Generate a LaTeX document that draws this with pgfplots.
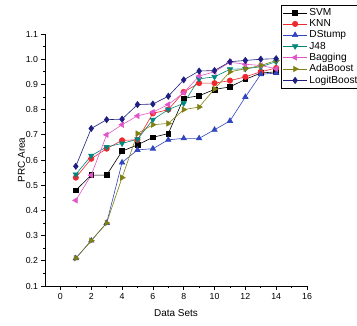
\documentclass[border=0pt]{standalone}
\usepackage{pgfplots}
\pgfplotsset{compat=1.18}
\usepackage{fontspec}
\setmainfont{Liberation Sans}
\definecolor{cknn}{RGB}{240,40,45}
\definecolor{cds}{RGB}{50,70,190}
\definecolor{cj}{RGB}{0,135,125}
\definecolor{cbag}{RGB}{225,85,200}
\definecolor{cada}{RGB}{128,128,20}
\definecolor{clog}{RGB}{30,30,130}
\begin{document}
\begin{tikzpicture}
\begin{axis}[
  at={(0,0)}, anchor=south west,
  width=262bp, height=252bp, scale only axis,
  xmin=-1, xmax=16, ymin=0.1, ymax=1.1,
  axis x line*=bottom, axis y line*=left,
  axis line style={-, line width=0.6bp},
  xtick={0,2,4,6,8,10,12,14,16}, minor x tick num=1,
  ytick={0.1,0.2,0.3,0.4,0.5,0.6,0.7,0.8,0.9,1.0,1.1}, minor y tick num=1,
  tick align=outside, major tick length=3.5bp, minor tick length=2bp,
  tick style={line width=0.6bp, black},
  yticklabel style={/pgf/number format/.cd, fixed, fixed zerofill, precision=1},
  /pgf/number format/assume math mode=true,
  tick label style={font=\fontsize{8.8}{10}\selectfont},
  xlabel={Data Sets}, ylabel={PRC Area},
  label style={font=\fontsize{10}{12}\selectfont},
  x label style={at={(axis description cs:0.5,-0.107)}, anchor=center},
  y label style={at={(axis description cs:-0.09,0.5)}, anchor=center},
  legend style={at={(axis description cs:0.902,1.115)}, anchor=north west,
    draw=black, line width=0.6bp, fill=white,
    font=\fontsize{10.2}{11.5}\selectfont, inner sep=1.2bp, row sep=-1.4bp,
    cells={anchor=west}},
  legend image code/.code={\draw[mark repeat=2, mark phase=2] plot coordinates {(0bp,0bp) (12bp,0bp) (24bp,0bp)};},
  every axis plot/.append style={line width=0.6bp, mark size=2.7bp},
]
\addplot[black, mark=square*, mark size=2.4bp] coordinates {
(1,0.48) (2,0.54) (3,0.54) (4,0.635) (5,0.66) (6,0.69) (7,0.705) (8,0.845) (9,0.855) (10,0.88) (11,0.89) (12,0.92) (13,0.945) (14,0.95)};
\addlegendentry{SVM}
\addplot[cknn, mark=*, mark options={fill=cknn}] coordinates {
(1,0.53) (2,0.605) (3,0.645) (4,0.678) (5,0.68) (6,0.785) (7,0.80) (8,0.87) (9,0.905) (10,0.905) (11,0.915) (12,0.93) (13,0.95) (14,0.965)};
\addlegendentry{KNN}
\addplot[cds, mark=triangle*, mark size=3.1bp, mark options={fill=cds}] coordinates {
(1,0.21) (2,0.28) (3,0.35) (4,0.59) (5,0.64) (6,0.645) (7,0.68) (8,0.686) (9,0.686) (10,0.72) (11,0.755) (12,0.85) (13,0.94) (14,0.945)};
\addlegendentry{DStump}
\addplot[cj, mark=triangle*, mark size=3.1bp, mark options={fill=cj, rotate=180}] coordinates {
(1,0.543) (2,0.617) (3,0.652) (4,0.666) (5,0.682) (6,0.76) (7,0.80) (8,0.825) (9,0.922) (10,0.93) (11,0.96) (12,0.962) (13,0.97) (14,0.99)};
\addlegendentry{J48}
\addplot[cbag, mark=triangle*, mark size=3.1bp, mark options={fill=cbag, rotate=90}] coordinates {
(1,0.44) (2,0.54) (3,0.70) (4,0.74) (5,0.775) (6,0.79) (7,0.82) (8,0.867) (9,0.933) (10,0.95) (11,0.988) (12,0.98) (13,0.975) (14,0.962)};
\addlegendentry{Bagging}
\addplot[cada, mark=triangle*, mark size=3.1bp, mark options={fill=cada, rotate=-90}] coordinates {
(1,0.21) (2,0.28) (3,0.35) (4,0.53) (5,0.705) (6,0.74) (7,0.745) (8,0.80) (9,0.81) (10,0.882) (11,0.95) (12,0.962) (13,0.975) (14,0.995)};
\addlegendentry{AdaBoost}
\addplot[clog, mark=diamond*, mark size=3.1bp, mark options={fill=clog}] coordinates {
(1,0.575) (2,0.725) (3,0.76) (4,0.762) (5,0.82) (6,0.822) (7,0.853) (8,0.918) (9,0.953) (10,0.955) (11,0.99) (12,0.995) (13,1.0) (14,1.002)};
\addlegendentry{LogitBoost}
\end{axis}
\pgfresetboundingbox
\path[use as bounding box] (-45bp,-40bp) rectangle (312bp,286bp);
\end{tikzpicture}
\end{document}
